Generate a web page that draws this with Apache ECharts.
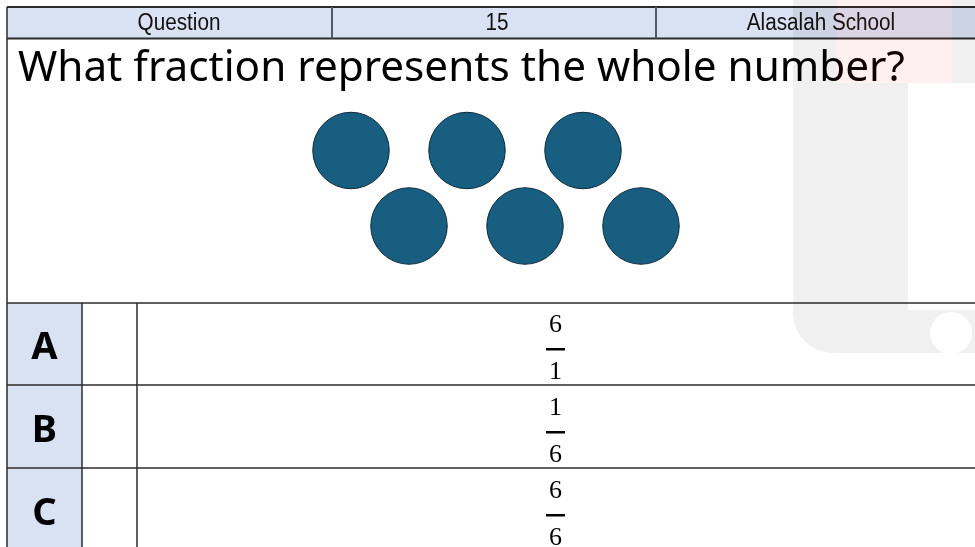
<!DOCTYPE html>
<html><head><meta charset="utf-8">
<script src="https://cdn.jsdelivr.net/npm/echarts@6/dist/echarts.min.js"></script>
<style>html,body{margin:0;padding:0;background:#fff}#c{width:975px;height:547px}</style>
</head><body><div id="c"></div>
<script>
// ---- data ----
const headerLabels = ['Question', '15', 'Alasalah School'];
const questionText = 'What fraction represents the whole number?';
const circleCol = [0, 2, 4, 1, 3, 5];
const circleRow = [0, 0, 0, 1, 1, 1];
const optionLetters = ['A', 'B', 'C'];
const numerators = ['6', '1', '6'];
const denominators = ['1', '6', '6'];

// ---- layout ----
const W = 975, H = 547;
const L = 7, headTop = 7, headBot = 38.5;
const headerCenters = [179, 497, 821];
const headerSeps = [332, 656];
const rowLines = [303, 385, 468];
const rowH = 83;
const letterCellR = 82, blankCellR = 137;
const fracX = 555.5;
const blue = '#d9e2f3', line = '#2b2b2b';

function measure(font, txt) {
  const c = document.createElement('canvas').getContext('2d');
  c.font = font; return c.measureText(txt).width;
}
const qFamily = '"Noto Sans", sans-serif';
const qSize = 36 * 887 / measure('36px ' + qFamily, questionText);

const g = [];
// header
g.push({type: 'rect', shape: {x: L, y: headTop, width: W - L, height: headBot - headTop}, style: {fill: blue}, z: 1});
g.push({type: 'line', shape: {x1: L, y1: headTop, x2: W, y2: headTop}, style: {stroke: line, lineWidth: 2}, z: 5});
g.push({type: 'line', shape: {x1: L, y1: headBot, x2: W, y2: headBot}, style: {stroke: line, lineWidth: 2}, z: 5});
headerSeps.forEach(x => g.push({type: 'line', shape: {x1: x, y1: headTop, x2: x, y2: headBot}, style: {stroke: '#505a68', lineWidth: 2}, z: 5}));
headerLabels.forEach((t, i) => g.push({type: 'text', x: headerCenters[i], y: (headTop + headBot) / 2 + 1, scaleX: 0.9, scaleY: 1,
  style: {text: t, x: 0, y: 0, textAlign: 'center', textVerticalAlign: 'middle', font: '23px "Liberation Sans", Arial, sans-serif', fill: '#111'}, z: 6}));
// left border
g.push({type: 'line', shape: {x1: L, y1: headTop, x2: L, y2: H}, style: {stroke: line, lineWidth: 1.5}, z: 5});
// question
g.push({type: 'text', style: {text: questionText, x: 18, y: 69, textAlign: 'left', textVerticalAlign: 'middle', font: qSize.toFixed(2) + 'px ' + qFamily, fill: '#000'}, z: 6});
// options table
g.push({type: 'rect', shape: {x: L, y: rowLines[0], width: letterCellR - L, height: H - rowLines[0]}, style: {fill: blue}, z: 1});
rowLines.forEach(y => g.push({type: 'line', shape: {x1: L, y1: y, x2: W, y2: y}, style: {stroke: line, lineWidth: 1.5}, z: 5}));
[letterCellR, blankCellR].forEach(x => g.push({type: 'line', shape: {x1: x, y1: rowLines[0], x2: x, y2: H}, style: {stroke: line, lineWidth: 1.5}, z: 5}));
optionLetters.forEach((t, i) => {
  const top = rowLines[0] + i * rowH;
  g.push({type: 'text', style: {text: t, x: 44.5, y: top + 45, textAlign: 'center', textVerticalAlign: 'middle', font: 'bold 38px "Noto Sans", sans-serif', fill: '#000'}, z: 6});
  g.push({type: 'text', style: {text: numerators[i], x: fracX, y: top + 22, textAlign: 'center', textVerticalAlign: 'middle', font: '26px "Liberation Serif", serif', fill: '#000'}, z: 6});
  g.push({type: 'rect', shape: {x: fracX - 9.5, y: top + 45, width: 19, height: 2.5}, style: {fill: '#000'}, z: 6});
  g.push({type: 'text', style: {text: denominators[i], x: fracX, y: top + 69, textAlign: 'center', textVerticalAlign: 'middle', font: '26px "Liberation Serif", serif', fill: '#000'}, z: 6});
});
// faint background watermark (translucent overlay)
const wm = 'rgba(0,0,0,0.06)', wmPink = 'rgba(235,0,0,0.06)';
[[793, 0, 44, 83, wm], [837, 0, 115, 83, wmPink], [952, 0, 23, 83, wm], [793, 83, 115, 227, wm]].forEach(r =>
  g.push({type: 'rect', shape: {x: r[0], y: r[1], width: r[2], height: r[3]}, style: {fill: r[4]}, z: 20, silent: true}));
g.push({type: 'rect', shape: {x: 793, y: 310, width: 182, height: 43, r: [0, 0, 0, 40]}, style: {fill: wm}, z: 20, silent: true});
g.push({type: 'circle', shape: {cx: 951, cy: 333, r: 21}, style: {fill: '#fff'}, z: 21, silent: true});

const chart = echarts.init(document.getElementById('c'), null, {renderer: 'canvas'});
chart.setOption({
  animation: false,
  backgroundColor: '#fff',
  grid: {left: 351, top: 150.5, width: 290, height: 75.5},
  xAxis: {type: 'value', min: 0, max: 5, show: false},
  yAxis: {type: 'value', min: 0, max: 1, inverse: true, show: false},
  series: [{
    type: 'scatter', silent: true, z: 10,
    symbol: 'circle', symbolSize: 76.5,
    itemStyle: {color: '#175e80', borderColor: '#0e2a3a', borderWidth: 1, opacity: 1},
    data: circleCol.map((c, i) => [c, circleRow[i]])
  }],
  graphic: g
});
</script></body></html>
